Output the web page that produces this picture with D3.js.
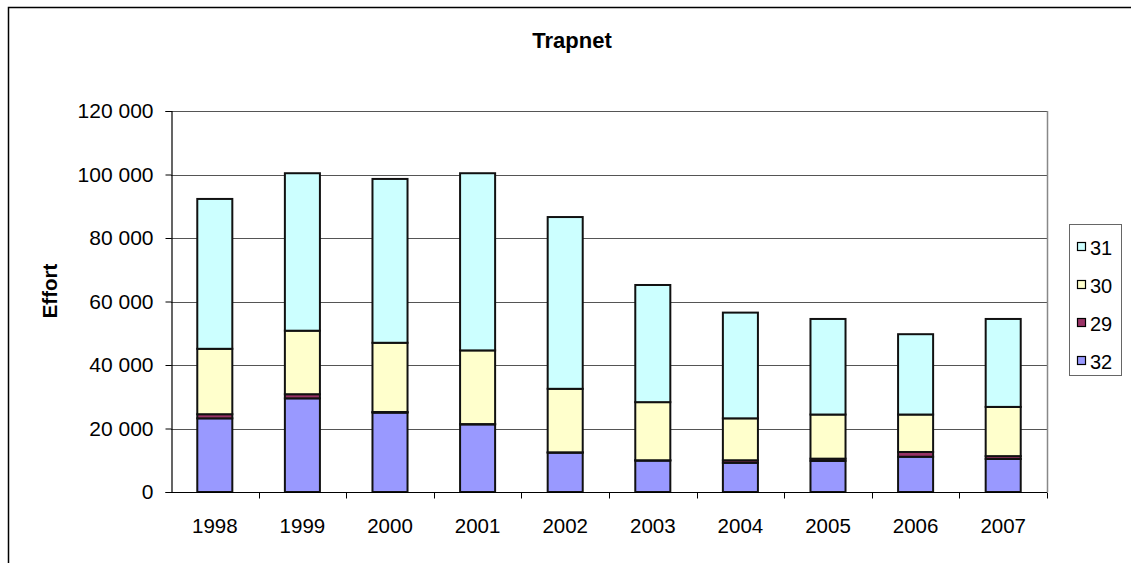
<!DOCTYPE html>
<html>
<head>
<meta charset="utf-8">
<script src="https://cdn.jsdelivr.net/npm/d3@7"></script>
<style>
  body { margin: 0; background: #fff; }
  svg { display: block; font-family: Arial, "Liberation Sans", sans-serif; }
</style>
</head>
<body>
<svg width="1131" height="563"></svg>
<script>
// chart data
const years = ["1998", "1999", "2000", "2001", "2002", "2003", "2004", "2005", "2006", "2007"];
const s32 = [23200, 29500, 25000, 21300, 12400, 9900, 9200, 9800, 11100, 10400];
const s29 = [1300, 1300, 200, 100, 100, 100, 800, 700, 1500, 900];
const s30 = [20600, 20000, 21800, 23200, 20000, 18300, 13200, 13900, 11800, 15500];
const s31 = [47200, 49600, 51600, 55800, 54100, 36900, 33300, 30100, 25300, 27700];
const yTicks = [0, 20000, 40000, 60000, 80000, 100000, 120000];
const seriesKeys = ["32", "29", "30", "31"];
const legendOrder = ["31", "30", "29", "32"];

const colors = { "31": "#CCFFFF", "30": "#FFFFCC", "29": "#993366", "32": "#9999FF" };

var svg = d3.select("svg");

// plot area
const plotLeft = 171, plotRight = 1047, plotTop = 111, plotBottom = 492;

// outer chart border
svg.append("rect")
    .attr("x", 8.5).attr("y", 7.5)
    .attr("width", 1200).attr("height", 700)
    .attr("fill", "#fff")
    .attr("stroke", "#000")
    .attr("stroke-width", 1.5);

// table for the stack
var table = years.map((yr, i) => ({ year: yr, "32": s32[i], "29": s29[i], "30": s30[i], "31": s31[i] }));
var stacked = d3.stack().keys(seriesKeys)(table);

var x = d3.scaleBand().domain(years).range([plotLeft, plotRight]).padding(0);
var y = d3.scaleLinear().domain([0, 120000]).range([plotBottom, plotTop]);

var fmt = d3.formatLocale({ decimal: ",", thousands: " ", grouping: [3], currency: ["", ""] }).format(",d");

// gridlines
svg.append("g")
    .selectAll("line")
    .data(yTicks.filter(d => d > 0))
    .enter().append("line")
    .attr("x1", plotLeft).attr("x2", plotRight)
    .attr("y1", d => Math.round(y(d)) + 0.5)
    .attr("y2", d => Math.round(y(d)) + 0.5)
    .attr("stroke", "#555")
    .attr("stroke-width", 1);

// plot area right border
svg.append("line")
    .attr("x1", plotRight + 0.5).attr("x2", plotRight + 0.5)
    .attr("y1", plotTop).attr("y2", plotBottom)
    .attr("stroke", "#888")
    .attr("stroke-width", 1.5);

// bars
const barW = x.bandwidth() / 2.5;
svg.append("g")
    .selectAll("g")
    .data(stacked)
    .enter().append("g")
    .attr("fill", d => colors[d.key])
    .selectAll("rect")
    .data(d => d)
    .enter().append("rect")
    .attr("x", d => x(d.data.year) + (x.bandwidth() - barW) / 2)
    .attr("width", barW)
    .attr("y", d => y(d[1]))
    .attr("height", d => y(d[0]) - y(d[1]))
    .attr("stroke", "#111")
    .attr("stroke-width", 2);

// y axis
var yAxis = svg.append("g")
    .attr("transform", "translate(" + (plotLeft + 0.5) + ",0)")
    .call(d3.axisLeft(y).tickValues(yTicks).tickSize(6).tickPadding(12).tickFormat(fmt));
yAxis.select(".domain").attr("stroke", "#000").attr("stroke-width", 1.2);
yAxis.selectAll(".tick line").attr("stroke", "#000");
yAxis.selectAll("text").attr("font-size", 21).attr("fill", "#000").attr("font-family", "Arial, 'Liberation Sans', sans-serif");

// x axis: ticks on category boundaries
var xg = svg.append("g").attr("transform", "translate(0," + (plotBottom + 0.5) + ")");
xg.append("line")
    .attr("x1", plotLeft).attr("x2", plotRight)
    .attr("stroke", "#000").attr("stroke-width", 1.2);
xg.selectAll("line.tk")
    .data(years)
    .enter().append("line")
    .attr("class", "tk")
    .attr("x1", d => Math.round(x(d) + x.bandwidth()) + 0.5)
    .attr("x2", d => Math.round(x(d) + x.bandwidth()) + 0.5)
    .attr("y1", 0).attr("y2", 6)
    .attr("stroke", "#000");
xg.selectAll("text")
    .data(years)
    .enter().append("text")
    .attr("x", d => x(d) + x.bandwidth() / 2)
    .attr("y", 40)
    .attr("text-anchor", "middle")
    .attr("font-size", 20.5)
    .text(d => d);

// title
svg.append("text")
    .attr("x", 572).attr("y", 48)
    .attr("text-anchor", "middle")
    .attr("font-size", 22)
    .attr("font-weight", "bold")
    .text("Trapnet");

// y axis title
svg.append("text")
    .attr("transform", "translate(57,291) rotate(-90)")
    .attr("text-anchor", "middle")
    .attr("font-size", 20.5)
    .attr("font-weight", "bold")
    .text("Effort");

// legend
var legend = svg.append("g");
legend.append("rect")
    .attr("x", 1069.5).attr("y", 224.5)
    .attr("width", 52).attr("height", 151)
    .attr("fill", "#fff")
    .attr("stroke", "#666")
    .attr("stroke-width", 1);
var items = legend.selectAll("g.item")
    .data(legendOrder)
    .enter().append("g")
    .attr("class", "item")
    .attr("transform", (d, i) => "translate(0," + (247 + i * 38) + ")");
items.append("rect")
    .attr("x", 1077.5).attr("y", -4.5)
    .attr("width", 8).attr("height", 8)
    .attr("fill", d => colors[d])
    .attr("stroke", "#000")
    .attr("stroke-width", 1.2);
items.append("text")
    .attr("x", 1090).attr("y", 7.5)
    .attr("font-size", 20)
    .text(d => d);
</script>
</body>
</html>
